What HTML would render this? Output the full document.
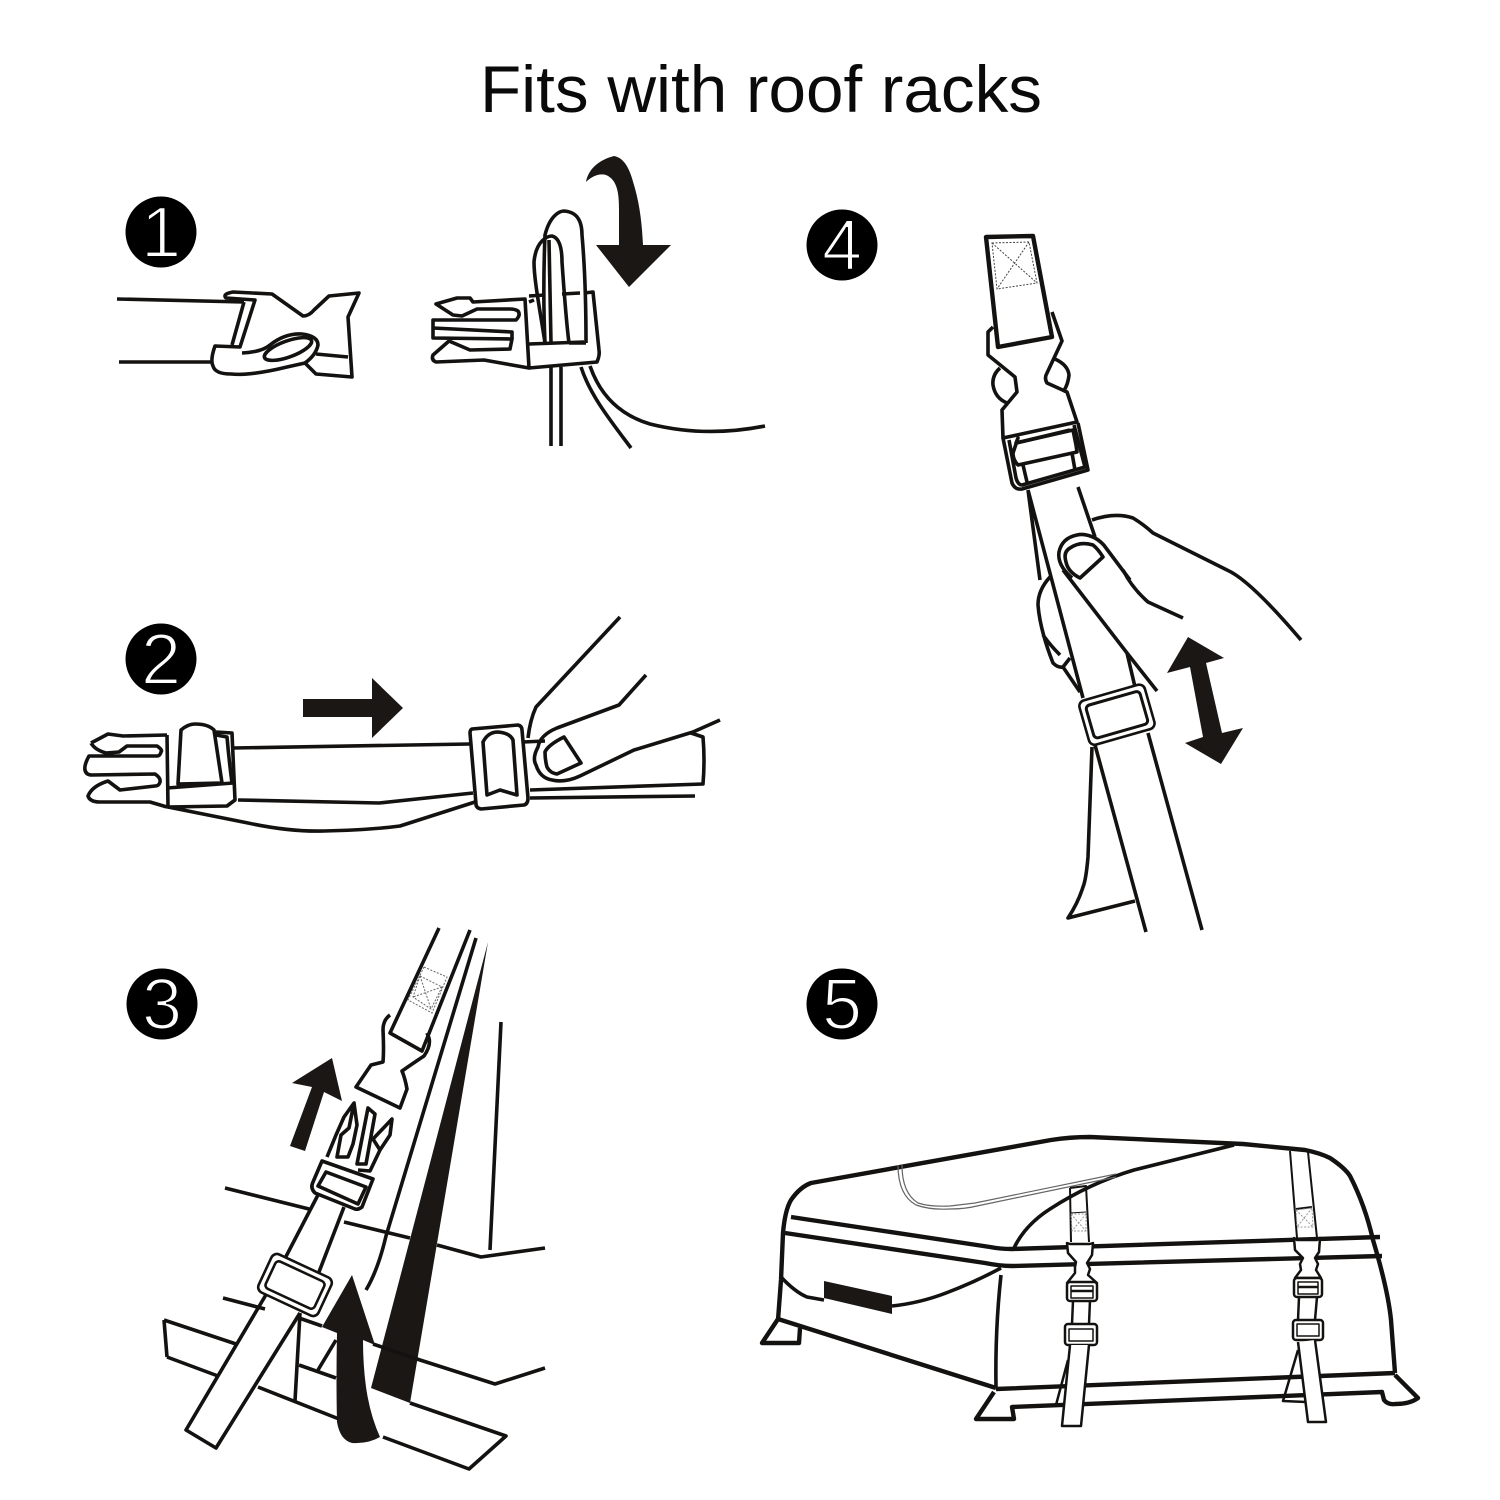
<!DOCTYPE html>
<html><head><meta charset="utf-8"><style>
html,body{margin:0;padding:0;background:#fff}
svg{display:block}
.l{fill:none;stroke:#141210;stroke-width:3.6;stroke-linejoin:round;stroke-linecap:butt}
.w{fill:#fff;stroke:#141210;stroke-width:3.6;stroke-linejoin:round}
.k{fill:#1a1715}
.d{fill:none;stroke:#666;stroke-width:1;stroke-dasharray:2 1.5}
.n{fill:#fff;stroke:#000;stroke-width:2;paint-order:normal;font-family:"Liberation Sans",sans-serif;font-size:72px;text-anchor:middle}
.h{stroke-width:4.4}
</style></head><body>
<svg width="1500" height="1500" viewBox="0 0 1500 1500" xmlns="http://www.w3.org/2000/svg">
<rect width="1500" height="1500" fill="#fff"/>
<text x="480" y="112" font-family="Liberation Sans, sans-serif" font-size="66" fill="#0a0a0a" textLength="562" lengthAdjust="spacingAndGlyphs">Fits with roof racks</text>

<circle cx="161" cy="232" r="35.5" fill="#000"/><text class="n" x="161" y="257">1</text>
<circle cx="161" cy="659" r="35.5" fill="#000"/><text class="n" x="161" y="684">2</text>
<circle cx="162" cy="1004" r="35.5" fill="#000"/><text class="n" x="162" y="1029">3</text>
<circle cx="842" cy="245" r="35.5" fill="#000"/><text class="n" x="842" y="270">4</text>
<circle cx="842" cy="1004" r="35.5" fill="#000"/><text class="n" x="842" y="1029">5</text>

<!-- Panel 1 left -->
<path class="l" d="M117 299L244 302M119 362H211"/>
<path class="l" d="M226 298Q222 294 233 292L272 294L303 316Q309 316 314 310L329 296L359 293L348 317L352 377L316 374L305 363L287 367Q250 376 231 374Q215 374 213 366Q210 360 215 346L240 347L255 300Z"/>
<path class="l" d="M244 302L232 345"/>
<path class="l" d="M242 353Q262 352 270 345Q285 333 302 334Q318 336 318 345Q316 355 305 363"/>
<ellipse class="l" cx="288" cy="349" rx="25" ry="8" transform="rotate(-20 288 349)"/>
<path class="l" d="M316 354L348 357"/>

<!-- Panel 1 right -->
<path class="l" d="M551 367V446M561 367V446"/>
<path class="l" d="M581 367C590 395 610 420 631 448"/>
<path class="l" d="M590 366C600 395 620 415 650 424C690 434 730 433 765 426"/>
<path class="l" d="M436 304L457 298L470 298L473 302L525 299L529 368L484 360L436 362Q431 360 433 355L449 341L470 350L510 349L512 339L433 338V320L516 320Q521 315 518 311Q515 309 510 309L477 309L462 316L453 315Z"/>
<path class="l" d="M433 328L512 332V339"/>
<path class="l" d="M529 368L597 362Q600 355 599 350L593 292L584 293"/>
<path class="l" d="M529 344L584 342"/>
<path class="l" d="M545 343C543 300 544 260 545 235C550 215 560 211 564 211C578 212 582 222 582 235C586 280 586 320 586 343"/>
<path class="l" d="M545 343C540 310 534 280 534 262C536 240 548 236 552 236C560 238 562 250 562 262C564 290 566 320 569 343"/>
<path class="l" d="M549 240L551 343M562 294L580 293M569 343H586"/>
<path class="l" d="M529 296L545 295M529 302L534 300"/>
<path class="k" d="M614 156C598 160 588 170 586 182C592 176 600 173 606 175C618 180 619 195 619 210L619 245H596L629 287L671 245H643C642 225 640 205 634 185C630 170 625 158 614 156Z"/>

<!-- Panel 2 -->
<path class="k" d="M303 699H372V678L403 708L372 738V717H303Z"/>
<path class="l" d="M91 743L108 734L123 736L167 735M91 743Q95 750 106 753L119 752L127 746L157 746Q163 750 161 752Q160 756 157 756L89 756Q84 765 85 770Q86 775 92 775L155 774Q161 778 160 782Q159 786 155 786L120 790L108 781Q92 786 88 796Q90 802 100 802L150 802L167 807"/>
<path class="l" d="M167 735L168 807L227 806L235 800L232 733L216 732"/>
<path class="l" d="M181 730Q188 724 195 724Q208 724 214 730L222 783L178 784Z"/>
<path class="l" d="M167 788L233 783M216 735L227 737Q229 760 232 783"/>
<path class="l" d="M233 748L470 744"/>
<path class="l" d="M238 800L379 803L473 793"/>
<path class="l" d="M168 807L248 823Q290 832 324 831Q370 830 400 826L475 802"/>
<path class="w" d="M472 729L518 725Q522 726 522 730L528 798Q528 804 524 805L481 809Q476 808 476 804L470 733Q470 730 472 729Z"/>
<path class="l" d="M483 742Q488 732 498 732Q510 733 513 740L517 795L500 790L487 795Z"/>
<path class="l" d="M523 742L545 741M530 790L703 784Q705 760 703 737L691 733M530 798L695 796"/>
<path class="l" d="M620 617L536 707Q530 720 528 738"/>
<path class="l" d="M646 675L619 705L557 728Q540 735 538 747Q532 758 536 765Q540 778 552 780Q565 783 580 776L634 750L693 732L720 720"/>
<path class="l" d="M564 737Q548 745 545 752Q545 760 547 767Q550 773 557 774L581 763Z"/>

<!-- Panel 3 -->
<path class="k" d="M488 942L410 1403L371 1388Z"/>
<path class="l" d="M225 1188L309 1209M344 1222L410 1238M437 1245L481 1257L545 1248M501 1022L490 1250"/>
<path class="l" d="M223 1298L265 1309M299 1318L322 1326M373 1344L420 1360L495 1384L545 1368M299 1365L336 1378"/>
<path class="l" d="M476 938L386 1236Q378 1270 366 1290"/>
<path class="l" d="M164 1320L236 1344M167 1357L218 1376M164 1320L167 1357"/>
<path class="l" d="M258 1387L339 1419M383 1437L469 1469L506 1436L410 1403"/>
<path class="l" d="M300 1313L295 1401M336 1340L318 1370"/>
<path class="l" d="M439 928L390 1033L422 1051L470 930"/>
<path class="d" d="M424 967L447 977L432 1013L408 1000ZM420 976L442 987L431 1009L413 997ZM420 976L431 1009M442 987L413 997"/>
<path class="l" d="M390 1015Q383 1020 383 1030Q384 1050 383 1062L371 1065L356 1087L400 1108L407 1089Q405 1078 402 1071Q412 1064 424 1056Q431 1046 429 1038L427 1033"/>
<path class="l" d="M354 1103L344 1117L336 1135L327 1157M354 1103L349 1128L341 1135L337 1157L348 1157L353 1144L357 1125Z"/>
<path class="l" d="M368 1108L375 1114L366 1164L357 1164Z"/>
<path class="l" d="M392 1119L390 1135L380 1150L373 1139ZM380 1150L370 1171L358 1170"/>
<path class="w" d="M322 1161L373 1179L362 1207Q358 1210 355 1209L315 1193Q310 1188 313 1182Z"/>
<path class="l" d="M326 1172L366 1187L358 1204L318 1186Z"/>
<path class="l" d="M319 1193L267 1293L186 1430L216 1448L300 1313M344 1207L319 1272"/>
<g transform="rotate(25 295 1285)"><rect class="w" x="262" y="1264" width="66" height="42" rx="6" style="stroke-width:2.6"/><rect class="l" x="268" y="1270" width="54" height="30" rx="4" style="stroke-width:2.6"/></g>
<path class="k" d="M332 1058L292 1083L312 1087L290 1146L305 1151L324 1092L342 1101Z"/>
<path class="k" d="M352 1275L322 1327L337 1333Q336 1380 337 1422Q340 1440 352 1443Q368 1444 380 1437Q370 1415 366 1387Q363 1365 363 1340L375 1345Z"/>

<!-- Panel 4 -->
<path class="l h" d="M986 237L1033 236L1052 337L998 347Z"/>
<path class="d" style="stroke:#444" d="M992 243L1029 242L1037 283L997 289ZM992 243L1037 283M1029 242L997 289"/>
<path class="l" d="M993 327L988 332L988 355L1015 377L1017 392L1002 410L1003 438L1077 422L1067 392L1047 383Q1044 378 1047 373L1062 341L1052 312"/>
<path class="l" d="M1000 368Q992 375 993 385Q995 398 1007 403M1055 359Q1068 365 1069 375Q1068 385 1063 392"/>
<path class="l" d="M1003 438L1012 483Q1015 490 1022 489L1088 470L1078 423"/>
<path class="l" d="M1009 440L1016 478Q1018 485 1022 485L1085 467L1074 425"/>
<path class="l" d="M1018 438L1016 443L1073 430L1076 445L1077 452L1018 465Q1013 460 1013 453Z"/>
<path class="l" d="M1023 465L1027 482M1072 453L1075 470M1016 443L1070 430"/>
<path class="l" d="M1028 490L1083 698M1028 490L1040 580M1078 487L1095 537M1127 653L1135 687"/>
<path class="l" d="M1063 570L1127 653L1157 691"/>
<path class="l" d="M1092 520Q1115 512 1133 518Q1143 524 1153 533L1227 570Q1250 580 1301 640"/>
<path class="l" d="M1095 538Q1085 533 1077 535Q1062 538 1059 552Q1057 565 1072 578M1095 538Q1102 542 1106 548L1130 580"/>
<path class="l" d="M1123 570Q1132 588 1148 602L1183 618"/>
<path class="l" d="M1103 557L1080 578Q1068 572 1066 562Q1063 552 1070 548Q1080 541 1093 545Q1098 549 1103 557Z"/>
<path class="l" d="M1050 577Q1038 590 1038 605Q1040 630 1053 663Q1058 668 1063 667L1070 658M1043 635Q1050 645 1060 655M1063 667L1080 692"/>
<g transform="rotate(-16 1116 715)"><rect class="w" x="1083" y="692" width="68" height="46" rx="6" style="stroke-width:2.6"/><rect class="l" x="1089" y="698" width="56" height="34" rx="4" style="stroke-width:3"/></g>
<path class="l" d="M1148 733L1202 930M1095 745L1146 932M1092 747L1088 857Q1086 880 1083 887Q1078 903 1068 918L1135 901"/>
<path class="k" d="M1188 637L1224 658L1206 663L1222 733L1243 728L1221 764L1185 743L1203 737L1190 667L1167 673Z"/>

<!-- Panel 5 -->
<path class="l h" d="M778 1320L781 1280L783 1233Q785 1210 791 1200Q800 1187 811 1183L1051 1140Q1070 1137 1090 1137L1243 1144L1305 1150Q1320 1153 1330 1158Q1345 1168 1350 1176Q1365 1205 1373 1240Q1388 1290 1391 1320L1395 1373"/>
<path class="l h" d="M791 1217L990 1247Q1000 1249 1012 1249L1380 1237"/>
<path class="l h" d="M785 1233L985 1263Q1000 1266 1012 1266L1382 1256"/>
<path class="l" d="M1014 1248Q1025 1225 1050 1209Q1090 1183 1134 1170L1234 1145"/>
<path d="M898 1165Q898 1195 916 1205Q930 1210 950 1209Q965 1209 977 1206L1116 1177M902 1165Q902 1193 918 1203Q930 1207 950 1206L975 1203L1116 1174" fill="none" stroke="#666" stroke-width="1.2"/>
<path class="l" d="M781 1277Q795 1292 807 1297L824 1300M892 1306Q920 1303 946 1293Q975 1282 1001 1268"/>
<path d="M824 1281L892 1296V1314L824 1298Z" fill="#1a1715"/>
<path class="l" d="M1001 1275Q995 1330 996 1388"/>
<path class="l h" d="M778 1319L996 1388M778 1319L762 1343H799L800 1328"/>
<path class="l h" d="M996 1389L1395 1373M994 1392L976 1419H1014L1012 1407L1382 1392L1384 1400Q1388 1405 1395 1404Q1410 1404 1418 1398L1395 1375"/>

<path class="l" style="stroke-width:2" d="M1070 1188L1086 1186L1089 1242M1070 1188L1071 1242"/>
<path class="l" style="stroke-width:1" d="M1070 1213L1086 1212"/>
<path class="d" style="stroke:#999" d="M1071 1214H1086V1231H1072ZM1071 1214L1086 1231M1086 1214L1072 1231"/>
<path class="w" style="stroke-width:2.5" d="M1067 1243L1070 1244H1090L1093 1243L1092 1255L1087 1263L1090 1269L1088 1275L1097 1283L1067 1283L1075 1273L1075 1267L1076 1262L1068 1253Z"/>
<rect class="w" x="1067" y="1282" width="30" height="19" rx="3" style="stroke-width:2.5"/>
<rect class="l" x="1071" y="1286" width="22" height="12" style="stroke-width:1.5"/>
<path class="l" style="stroke-width:2.5" d="M1071 1291H1093M1073 1301L1072 1324M1090 1300L1089 1324"/>
<rect class="w" x="1065" y="1324" width="32" height="21" rx="3" style="stroke-width:2.5"/>
<rect class="l" x="1069" y="1329" width="24" height="12" style="stroke-width:1.5"/>
<path class="l" style="stroke-width:2.5" d="M1068 1360L1056 1405H1066"/>
<path class="w" style="stroke-width:2.5" d="M1070 1345L1062 1426H1081L1089 1345"/>

<path class="l" style="stroke-width:2" d="M1290 1151L1297 1238M1308 1152L1317 1238M1296 1209L1312 1207"/>
<path class="d" style="stroke:#999" d="M1296 1210L1312 1208L1313 1227L1297 1227ZM1296 1210L1313 1227M1312 1208L1297 1227"/>
<path class="w" style="stroke-width:2.5" d="M1294 1238L1297 1240H1317L1320 1238L1319 1252L1315 1258L1318 1264L1316 1270L1321 1278H1295L1301 1270L1300 1264L1303 1258L1295 1250Z"/>
<rect class="w" x="1294" y="1278" width="28" height="19" rx="3" style="stroke-width:2.5"/>
<rect class="l" x="1298" y="1282" width="20" height="12" style="stroke-width:1.5"/>
<path class="l" style="stroke-width:2.5" d="M1298 1287H1318M1299 1297L1298 1320M1317 1297L1315 1320"/>
<rect class="w" x="1293" y="1320" width="30" height="20" rx="3" style="stroke-width:2.5"/>
<rect class="l" x="1297" y="1324" width="22" height="12" style="stroke-width:1.5"/>
<path class="l" style="stroke-width:2.5" d="M1298 1350L1283 1401L1306 1402"/>
<path class="w" style="stroke-width:2.5" d="M1298 1342L1308 1422H1326L1315 1340"/>
</svg>
</body></html>
